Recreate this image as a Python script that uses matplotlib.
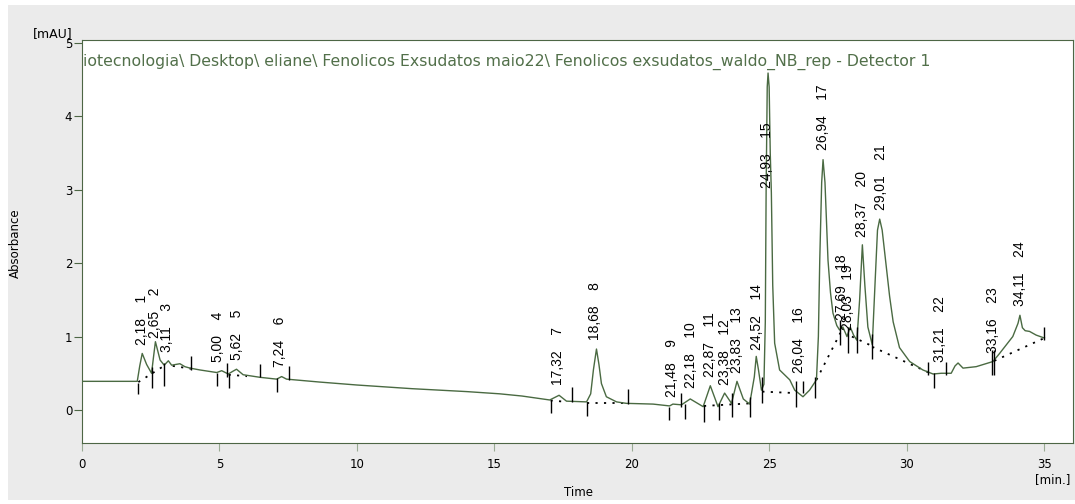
import matplotlib.pyplot as plt
from matplotlib.patches import Rectangle

# ---- trace (min, mAU) ----
time = [0.0, 1.0, 2.01, 2.10, 2.19, 2.35, 2.53, 2.60, 2.67, 2.84, 2.99, 3.14, 3.26,
        3.56, 3.74, 3.93, 4.29, 4.90, 5.08, 5.32, 5.50, 5.62, 5.86, 6.47, 7.08,
        7.26, 7.44, 8.65, 10.0, 12.0, 14.0, 15.19, 16.0, 17.01, 17.35, 17.62,
        18.35, 18.50, 18.60, 18.71, 18.80, 18.89, 19.07, 19.44, 19.80, 20.30,
        20.77, 21.37, 21.49, 21.80, 22.12, 22.59, 22.85, 23.13, 23.37, 23.62,
        23.82, 24.05, 24.28, 24.45, 24.52, 24.60, 24.71, 24.80, 24.85, 24.88,
        24.92, 24.95, 24.99, 25.03, 25.07, 25.12, 25.19, 25.37, 25.74, 25.92,
        26.22, 26.46, 26.71, 26.78, 26.83, 26.90, 26.95, 27.02, 27.13, 27.22,
        27.31, 27.45, 27.55, 27.67, 27.82, 27.94, 28.06, 28.18, 28.28, 28.38,
        28.47, 28.58, 28.74, 28.85, 28.93, 29.01, 29.10, 29.25, 29.37, 29.50,
        29.73, 30.10, 30.58, 30.95, 31.25, 31.61, 31.75, 31.86, 32.04, 32.52,
        33.13, 33.37, 33.85, 34.04, 34.11, 34.20, 34.30, 34.46, 34.70, 35.0]
signal = [0.39, 0.39, 0.39, 0.60, 0.77, 0.62, 0.50, 0.72, 0.93, 0.68, 0.61, 0.67, 0.61,
          0.63, 0.59, 0.57, 0.545, 0.51, 0.535, 0.49, 0.53, 0.555, 0.48, 0.445, 0.42,
          0.455, 0.42, 0.38, 0.34, 0.29, 0.25, 0.22, 0.19, 0.136, 0.20, 0.12,
          0.11, 0.22, 0.55, 0.83, 0.62, 0.36, 0.18, 0.11, 0.09, 0.085,
          0.08, 0.055, 0.08, 0.07, 0.15, 0.045, 0.33, 0.045, 0.23, 0.09,
          0.39, 0.15, 0.08, 0.45, 0.73, 0.55, 0.27, 0.35, 1.2, 3.0,
          4.4, 4.59, 4.4, 3.5, 2.96, 1.7, 0.91, 0.545, 0.41, 0.27,
          0.18, 0.27, 0.41, 1.0, 2.04, 3.1, 3.41, 3.1, 2.04, 1.6,
          1.32, 1.15, 1.09, 1.13, 1.0, 1.13, 1.02, 0.95, 1.5, 2.25,
          1.7, 1.13, 0.89, 1.8, 2.45, 2.60, 2.45, 1.95, 1.55, 1.2,
          0.85, 0.66, 0.545, 0.49, 0.50, 0.50, 0.60, 0.64, 0.57, 0.59,
          0.66, 0.77, 1.0, 1.18, 1.29, 1.12, 1.08, 1.07, 1.02, 0.98]

# ---- peak labels ----
peak_rt = ["2,18", "2,65", "3,11", "5,00", "5,62", "7,24", "17,32", "18,68",
           "21,48", "22,18", "22,87", "23,38", "23,83", "24,52", "24,93", "26,04",
           "26,94", "27,69", "28,03", "28,37", "29,01", "31,21", "33,16", "34,11"]
peak_no = list(range(1, 25))
label_x = [2.17, 2.65, 3.08, 4.95, 5.62, 7.20, 17.31, 18.67, 21.47, 22.13, 22.83,
           23.37, 23.82, 24.55, 24.91, 26.07, 26.95, 27.65, 27.86, 28.38, 29.07,
           31.19, 33.13, 34.10]
label_y = [0.885, 0.98, 0.79, 0.66, 0.68, 0.59, 0.34, 0.95, 0.18, 0.30, 0.45,
           0.34, 0.50, 0.82, 3.02, 0.50, 3.54, 1.23, 1.09, 2.36, 2.72, 0.66,
           0.77, 1.41]

# ---- integration markers (time, top, bottom) ----
mark_t = [2.05, 2.56, 2.98, 3.95, 4.90, 5.28, 5.33, 6.47, 7.08, 7.54, 17.04,
          17.82, 18.38, 19.84, 21.35, 21.77, 21.94, 22.62, 23.17, 23.64, 24.31,
          24.74, 25.95, 26.22, 26.64, 27.58, 27.87, 28.18, 28.74, 30.77, 30.97,
          31.43, 33.10, 33.18, 35.0]
mark_top = [0.37, 0.59, 0.64, 0.735, 0.51, 0.64, 0.49, 0.62, 0.43, 0.60, 0.136,
            0.31, 0.11, 0.28, 0.045, 0.23, 0.08, 0.07, 0.09, 0.23, 0.18,
            0.45, 0.39, 0.39, 0.45, 1.23, 1.13, 1.13, 1.04, 0.66, 0.50,
            0.66, 0.82, 0.82, 1.13]
mark_bot = [0.22, 0.30, 0.32, 0.545, 0.33, 0.45, 0.30, 0.445, 0.25, 0.41, -0.045,
            0.11, -0.08, 0.08, -0.14, 0.045, -0.12, -0.16, -0.14, -0.09, -0.09,
            0.09, 0.045, 0.23, 0.16, 0.89, 0.77, 0.77, 0.70, 0.48, 0.30,
            0.48, 0.48, 0.48, 0.95]

# ---- dotted baselines ----
base_t0 = [2.05, 3.30, 5.33, 17.04, 18.38, 22.62, 24.74, 26.71, 28.00, 28.74, 33.18]
base_y0 = [0.38, 0.60, 0.48, 0.13, 0.10, 0.055, 0.25, 0.41, 1.00, 0.86, 0.67]
base_t1 = [2.98, 4.00, 6.00, 17.62, 19.84, 24.31, 25.95, 27.58, 28.74, 30.97, 35.0]
base_y1 = [0.60, 0.56, 0.46, 0.11, 0.10, 0.09, 0.23, 1.05, 0.87, 0.48, 0.98]

title = ("iotecnologia\\ Desktop\\ eliane\\ Fenolicos Exsudatos maio22\\ "
         "Fenolicos exsudatos_waldo_NB_rep - Detector 1")

fig = plt.figure(figsize=(10.75, 5.04), dpi=100, facecolor="white")
fig.patches.append(Rectangle((8 / 1075, 1 - 500 / 504), 1067 / 1075, 495 / 504,
                             transform=fig.transFigure, facecolor="#ebebeb",
                             edgecolor="none", zorder=-5))
ax = fig.add_axes([82 / 1075, 1 - 443 / 504, 991 / 1075, 403 / 504])
ax.set_facecolor("white")

ax.plot(time, signal, color="#4a6a42", lw=1.0, zorder=3)
ax.vlines(mark_t, mark_bot, mark_top, color="black", lw=1.0, zorder=4)
for t0, y0, t1, y1 in zip(base_t0, base_y0, base_t1, base_y1):
    ax.plot([t0, t1], [y0, y1], color="black", lw=1.3, ls=(0, (1.2, 3.5)), zorder=2)

for rt, n, x, y in zip(peak_rt, peak_no, label_x, label_y):
    ax.text(x, y, f"{rt}    {n}", rotation=90, ha="center", va="bottom",
            fontsize=10, family="Liberation Sans", color="black", zorder=5)

ax.text(0.001, 0.945, title, transform=ax.transAxes, ha="left", va="center",
        fontsize=11.3, family="DejaVu Sans", color="#52704a")

ax.set_xlim(0, 36.04)
ax.set_ylim(-0.45, 5.04)
ax.set_xticks(range(0, 36, 5))
ax.set_yticks(range(0, 6))
for s in ax.spines.values():
    s.set_color("#4d6645")
ax.tick_params(axis="x", length=6, color="#9aab94", labelsize=8.5, pad=5)
ax.tick_params(axis="y", length=6, color="#4d6645", labelsize=8.5, pad=1)

fig.text(53 / 1075, 1 - 34 / 504, "[mAU]", ha="center", va="center", fontsize=9)
fig.text(15 / 1075, 1 - 243 / 504, "Absorbance", rotation=90, ha="center",
         va="center", fontsize=8.5)
fig.text(578 / 1075, 1 - 492 / 504, "Time", ha="center", va="center", fontsize=8.5)
fig.text(1053 / 1075, 1 - 480 / 504, "[min.]", ha="center", va="center", fontsize=8.5)

fig.savefig("out.png", dpi=100, facecolor=fig.get_facecolor())
